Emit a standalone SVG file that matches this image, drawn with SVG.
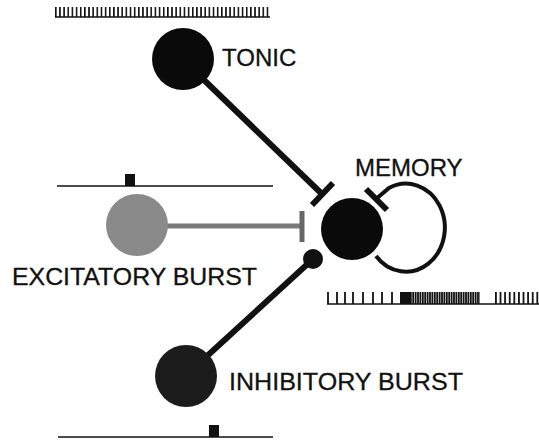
<svg xmlns="http://www.w3.org/2000/svg" width="539" height="447" viewBox="0 0 539 447">
  <defs>
    <pattern id="tickTop" x="55" y="0" width="4.15" height="20" patternUnits="userSpaceOnUse">
      <rect x="0" y="0" width="1.6" height="20" fill="#111"/>
    </pattern>
    <pattern id="tickDense" x="410" y="0" width="2.4" height="20" patternUnits="userSpaceOnUse">
      <rect x="0" y="0" width="1.8" height="20" fill="#111"/>
    </pattern>
    <pattern id="tickEnd" x="495" y="0" width="4.6" height="20" patternUnits="userSpaceOnUse">
      <rect x="0" y="0" width="1.8" height="20" fill="#111"/>
    </pattern>
  </defs>
  <style>
    .lbl { font-family: "Liberation Sans", Arial, sans-serif; font-size: 24px; fill: #111; stroke: #111; stroke-width: 0.3; }
    .base { stroke: #111; stroke-width: 1.6; fill: none; }
    .tick { stroke: #111; stroke-width: 1.8; }
    .conn { stroke: #111; stroke-width: 6; fill: none; }
    .bar { stroke: #111; stroke-width: 6; }
  </style>
  <rect width="539" height="447" fill="#fff"/>

  <g id="connectors">
    <line class="conn" x1="204" y1="80" x2="322" y2="194"/>
    <line class="bar" x1="312" y1="205" x2="333" y2="183"/>
    <line x1="166" y1="226" x2="302" y2="226" stroke="#7a7a7a" stroke-width="5"/>
    <line x1="302" y1="211" x2="302" y2="242" stroke="#666" stroke-width="5"/>
    <line class="conn" x1="206" y1="357" x2="313" y2="259"/>
    <path d="M376 199 L389 188 A 39 44 0 1 1 376 256" stroke="#111" stroke-width="4" fill="none"/>
    <line class="bar" x1="366" y1="189" x2="387" y2="210"/>
  </g>

  <g id="tonic">
    <rect x="55" y="7" width="214" height="10" fill="url(#tickTop)"/>
    <line class="base" x1="55" y1="17" x2="270" y2="17"/>
    <circle cx="183" cy="59" r="31" fill="#0a0a0a"/>
    <text class="lbl" x="222" y="66">TONIC</text>
  </g>

  <g id="excitatory">
    <line class="base" x1="57" y1="186" x2="273" y2="186"/>
    <rect x="125" y="174" width="10" height="12" fill="#111"/>
    <circle cx="137" cy="225" r="31" fill="#8a8a8a"/>
    <text class="lbl" x="12" y="285" textLength="245" lengthAdjust="spacingAndGlyphs">EXCITATORY BURST</text>
  </g>

  <g id="memory">
    <circle cx="352" cy="229" r="31" fill="#0a0a0a"/>
    <text class="lbl" x="355" y="176">MEMORY</text>
    <line class="base" x1="327" y1="304" x2="539" y2="304"/>
    <path class="tick" d="M328 292V304M337 292V304M345 292V304M353 292V304M363 292V304M373 292V304M382 292V304M392 292V304"/>
    <rect x="400" y="292" width="10" height="12" fill="#111"/>
    <rect x="410" y="292" width="70" height="12" fill="url(#tickDense)"/>
    <rect x="495" y="292" width="44" height="12" fill="url(#tickEnd)"/>
  </g>

  <g id="inhibitory">
    <circle cx="313" cy="259" r="10" fill="#111"/>
    <circle cx="186" cy="376" r="31" fill="#1c1c1c"/>
    <text class="lbl" x="229" y="390" textLength="234" lengthAdjust="spacingAndGlyphs">INHIBITORY BURST</text>
    <line class="base" x1="58" y1="437" x2="273" y2="437"/>
    <rect x="209" y="425" width="10" height="12" fill="#111"/>
  </g>
</svg>
